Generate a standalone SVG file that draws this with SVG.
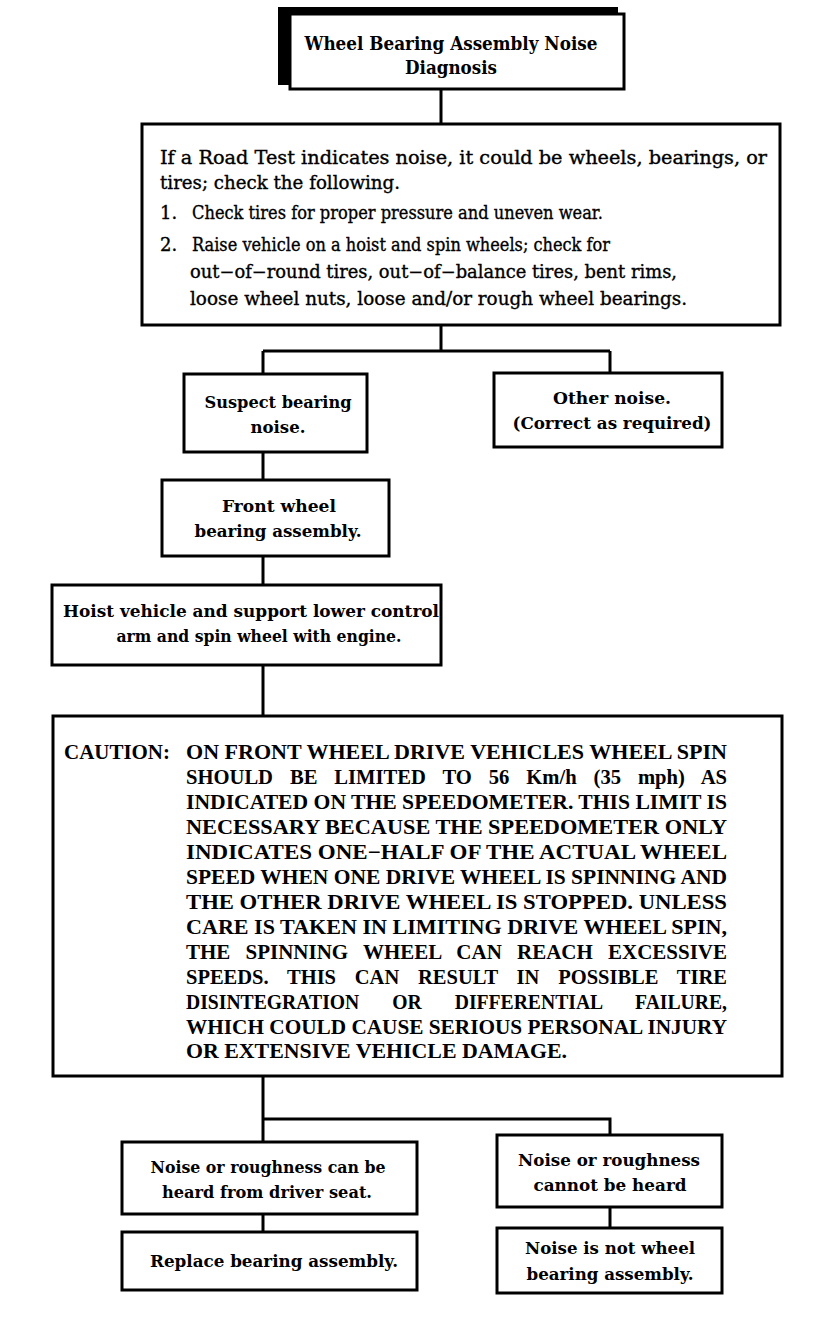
<svg xmlns="http://www.w3.org/2000/svg" width="832" height="1320" viewBox="0 0 832 1320">
<style>
.box{fill:#fff;stroke:#000;stroke-width:3}
.ln{fill:none;stroke:#000;stroke-width:3}
text{font-family:"DejaVu Serif","Liberation Serif",serif;fill:#000}
.t{font-size:17.5px;font-weight:bold;text-anchor:middle}
.h{font-size:18px;font-weight:bold;text-anchor:middle}
.b{font-size:18px;font-weight:normal;stroke:#000;stroke-width:0.35}
.c{font-family:"Liberation Serif","Times New Roman",serif;font-size:21px;font-weight:bold}
</style>
<rect width="832" height="1320" fill="#fff"/>
<g id="connectors">
<path class="ln" d="M441 89V124M441 325V351M263 351H610M263 351V374M610 351V373M263 452V480M263 556V585M263 665V716M263 1076V1142M263 1119H610V1135M263 1214V1232M610 1207V1228"/>
</g>
<g id="title">
<rect x="278" y="7" width="340" height="78" fill="#000"/>
<rect class="box" x="290" y="14" width="334" height="75"/>
<text class="h" x="451" y="50" textLength="293" lengthAdjust="spacingAndGlyphs">Wheel Bearing Assembly Noise</text>
<text class="h" x="451" y="74" textLength="92" lengthAdjust="spacingAndGlyphs">Diagnosis</text>
</g>
<g id="roadtest">
<rect class="box" x="142" y="124" width="638" height="201"/>
<text class="b" x="160" y="164" textLength="607" lengthAdjust="spacingAndGlyphs">If a Road Test indicates noise, it could be wheels, bearings, or</text>
<text class="b" x="160" y="189" textLength="240" lengthAdjust="spacingAndGlyphs">tires; check the following.</text>
<text class="b" x="160" y="219">1.</text><text class="b" x="192" y="219" textLength="411" lengthAdjust="spacingAndGlyphs">Check tires for proper pressure and uneven wear.</text>
<text class="b" x="160" y="251">2.</text><text class="b" x="192" y="251" textLength="418" lengthAdjust="spacingAndGlyphs">Raise vehicle on a hoist and spin wheels; check for</text>
<text class="b" x="190" y="278" textLength="487" lengthAdjust="spacingAndGlyphs">out−of−round tires, out−of−balance tires, bent rims,</text>
<text class="b" x="190" y="305" textLength="497" lengthAdjust="spacingAndGlyphs">loose wheel nuts, loose and/or rough wheel bearings.</text>
</g>
<g id="suspect">
<rect class="box" x="184" y="374" width="183" height="78"/>
<text class="t" x="278" y="408" textLength="147" lengthAdjust="spacingAndGlyphs">Suspect bearing</text>
<text class="t" x="278" y="433" textLength="55" lengthAdjust="spacingAndGlyphs">noise.</text>
</g>
<g id="other">
<rect class="box" x="494" y="373" width="228" height="74"/>
<text class="t" x="612" y="404" textLength="118" lengthAdjust="spacingAndGlyphs">Other noise.</text>
<text class="t" x="612" y="429" textLength="199" lengthAdjust="spacingAndGlyphs">(Correct as required)</text>
</g>
<g id="front">
<rect class="box" x="162" y="480" width="227" height="76"/>
<text class="t" x="279" y="512" textLength="114" lengthAdjust="spacingAndGlyphs">Front wheel</text>
<text class="t" x="278" y="537" textLength="167" lengthAdjust="spacingAndGlyphs">bearing assembly.</text>
</g>
<g id="hoist">
<rect class="box" x="52" y="585" width="389" height="80"/>
<text class="t" x="251" y="617" textLength="376" lengthAdjust="spacingAndGlyphs">Hoist vehicle and support lower control</text>
<text class="t" x="259" y="642" textLength="285" lengthAdjust="spacingAndGlyphs">arm and spin wheel with engine.</text>
</g>
<g id="caution">
<rect class="box" x="53" y="716" width="729" height="360"/>
<text class="c" x="64" y="759" textLength="106" lengthAdjust="spacingAndGlyphs">CAUTION:</text>
<text class="c" x="186" y="759" textLength="541" lengthAdjust="spacingAndGlyphs">ON FRONT WHEEL DRIVE VEHICLES WHEEL SPIN</text>
<text class="c" x="186" y="784" textLength="541" lengthAdjust="spacingAndGlyphs" word-spacing="12">SHOULD BE LIMITED TO 56 Km/h (35 mph) AS</text>
<text class="c" x="186" y="809" textLength="541" lengthAdjust="spacingAndGlyphs">INDICATED ON THE SPEEDOMETER. THIS LIMIT IS</text>
<text class="c" x="186" y="834" textLength="541" lengthAdjust="spacingAndGlyphs">NECESSARY BECAUSE THE SPEEDOMETER ONLY</text>
<text class="c" x="186" y="859" textLength="541" lengthAdjust="spacingAndGlyphs">INDICATES ONE−HALF OF THE ACTUAL WHEEL</text>
<text class="c" x="186" y="884" textLength="541" lengthAdjust="spacingAndGlyphs">SPEED WHEN ONE DRIVE WHEEL IS SPINNING AND</text>
<text class="c" x="186" y="909" textLength="541" lengthAdjust="spacingAndGlyphs">THE OTHER DRIVE WHEEL IS STOPPED. UNLESS</text>
<text class="c" x="186" y="934" textLength="541" lengthAdjust="spacingAndGlyphs">CARE IS TAKEN IN LIMITING DRIVE WHEEL SPIN,</text>
<text class="c" x="186" y="959" textLength="541" lengthAdjust="spacingAndGlyphs" word-spacing="10">THE SPINNING WHEEL CAN REACH EXCESSIVE</text>
<text class="c" x="186" y="984" textLength="541" lengthAdjust="spacingAndGlyphs" word-spacing="14">SPEEDS. THIS CAN RESULT IN POSSIBLE TIRE</text>
<text class="c" x="186" y="1009" textLength="541" lengthAdjust="spacingAndGlyphs" word-spacing="30">DISINTEGRATION OR DIFFERENTIAL FAILURE,</text>
<text class="c" x="186" y="1034" textLength="541" lengthAdjust="spacingAndGlyphs">WHICH COULD CAUSE SERIOUS PERSONAL INJURY</text>
<text class="c" x="186" y="1058" textLength="381" lengthAdjust="spacingAndGlyphs">OR EXTENSIVE VEHICLE DAMAGE.</text>
</g>
<g id="heard">
<rect class="box" x="122" y="1142" width="295" height="72"/>
<text class="t" x="268" y="1173" textLength="235" lengthAdjust="spacingAndGlyphs">Noise or roughness can be</text>
<text class="t" x="267" y="1198" textLength="210" lengthAdjust="spacingAndGlyphs">heard from driver seat.</text>
</g>
<g id="replace">
<rect class="box" x="122" y="1232" width="295" height="58"/>
<text class="t" x="274" y="1267" textLength="248" lengthAdjust="spacingAndGlyphs">Replace bearing assembly.</text>
</g>
<g id="notheard">
<rect class="box" x="497" y="1135" width="225" height="72"/>
<text class="t" x="609" y="1166" textLength="182" lengthAdjust="spacingAndGlyphs">Noise or roughness</text>
<text class="t" x="610" y="1191" textLength="153" lengthAdjust="spacingAndGlyphs">cannot be heard</text>
</g>
<g id="notwheel">
<rect class="box" x="497" y="1228" width="225" height="65"/>
<text class="t" x="610" y="1254" textLength="170" lengthAdjust="spacingAndGlyphs">Noise is not wheel</text>
<text class="t" x="610" y="1280" textLength="167" lengthAdjust="spacingAndGlyphs">bearing assembly.</text>
</g>
</svg>
